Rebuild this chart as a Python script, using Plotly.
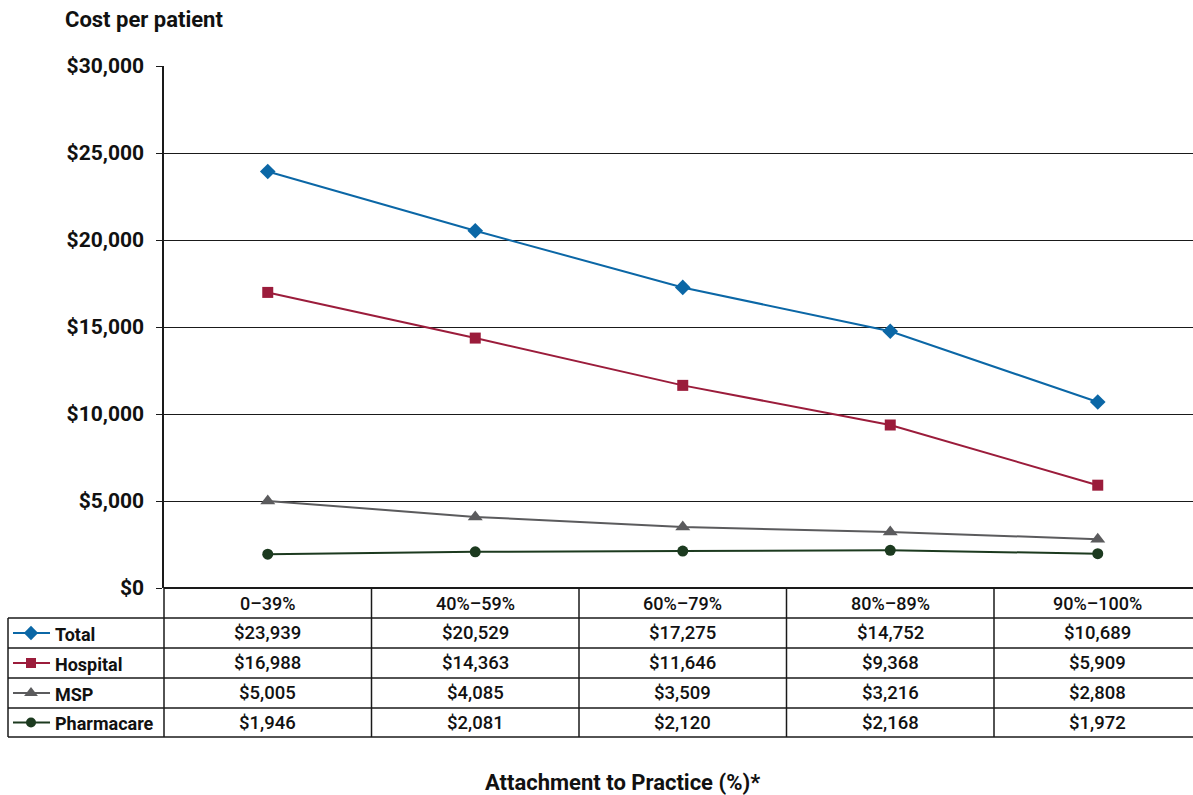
import plotly.graph_objects as go

# ---- data ----
categories = ["0\u201339%", "40%\u201359%", "60%\u201379%", "80%\u201389%", "90%\u2013100%"]
total = [23939, 20529, 17275, 14752, 10689]
hospital = [16988, 14363, 11646, 9368, 5909]
msp = [5005, 4085, 3509, 3216, 2808]
pharmacare = [1946, 2081, 2120, 2168, 1972]

series_names = ["Total", "Hospital", "MSP", "Pharmacare"]
series_values = [total, hospital, msp, pharmacare]
y_ticks = [0, 5000, 10000, 15000, 20000, 25000, 30000]

# ---- styling ----
W, H = 1193, 795
FONT = "Roboto"
colors = ["#0b67a6", "#9b1c3b", "#5b5b5d", "#1c3a1f"]
symbols = ["diamond", "square", "triangle-up", "circle"]
sizes = [12, 11, 13, 11]

# plot area in pixels
PL, PR, PT, PB = 164, W, 66, 588
BAND = 207.5  # pixel width of one category band


def px(x):
    return x / W


def py(y):
    return 1 - y / H


x_idx = list(range(len(categories)))
x_right = -0.5 + (PR - PL) / BAND

fig = go.Figure()

for name, vals, c, s, sz in zip(series_names, series_values, colors, symbols, sizes):
    fig.add_trace(go.Scatter(
        x=x_idx, y=vals, name=name, mode="lines+markers",
        line=dict(color=c, width=2),
        marker=dict(symbol=s, size=sz, color=c),
        cliponaxis=False, showlegend=False,
        xaxis="x", yaxis="y",
    ))

# legend keys inside the data table (pixel-space overlay axis)
row_tops = [618, 648, 678, 708, 737]
row_mid = [(row_tops[i] + row_tops[i + 1]) / 2 for i in range(4)]
for i, (c, s, sz) in enumerate(zip(colors, symbols, sizes)):
    fig.add_trace(go.Scatter(
        x=[13, 50], y=[row_mid[i], row_mid[i]], mode="lines",
        line=dict(color=c, width=2), showlegend=False,
        xaxis="x2", yaxis="y2", hoverinfo="skip",
    ))
    fig.add_trace(go.Scatter(
        x=[31], y=[row_mid[i]], mode="markers",
        marker=dict(symbol=s, size=sz - 1, color=c), showlegend=False,
        xaxis="x2", yaxis="y2", hoverinfo="skip",
    ))

shapes = []
LINE = dict(color="#1a1a1a", width=1.5)
# header row + value rows borders
col_edges = [PL + BAND * k for k in range(len(categories) + 1)]
for k, xe in enumerate(col_edges):
    if xe <= W:
        shapes.append(dict(type="line", xref="paper", yref="paper",
                           x0=px(xe), x1=px(xe), y0=py(PB), y1=py(737), line=LINE))
for yl in row_tops:
    shapes.append(dict(type="line", xref="paper", yref="paper",
                       x0=px(8), x1=1, y0=py(yl), y1=py(yl), line=LINE))
shapes.append(dict(type="line", xref="paper", yref="paper",
                   x0=px(8), x1=px(8), y0=py(618), y1=py(737), line=LINE))

annotations = []
TXT = "#111111"
# category header labels
for i, cat in enumerate(categories):
    annotations.append(dict(x=i, xref="x", y=py(603), yref="paper", text=cat,
                            showarrow=False, xanchor="center", yanchor="middle",
                            font=dict(family=FONT, size=18, color=TXT, weight=500)))
# series labels and values
for r, (name, vals) in enumerate(zip(series_names, series_values)):
    annotations.append(dict(x=px(53), xref="paper", y=py(row_mid[r] + 1), yref="paper",
                            text=name, showarrow=False, xanchor="left", yanchor="middle",
                            font=dict(family=FONT, size=18, color=TXT, weight="bold")))
    for i, v in enumerate(vals):
        annotations.append(dict(x=i, xref="x", y=py(row_mid[r]), yref="paper",
                                text=f"${v:,}", showarrow=False, xanchor="center",
                                yanchor="middle",
                                font=dict(family=FONT, size=18.5, color=TXT, weight=500)))
# titles
annotations.append(dict(x=px(63), xref="paper", y=py(20), yref="paper",
                        text="Cost per patient", showarrow=False, xanchor="left",
                        yanchor="middle",
                        font=dict(family=FONT, size=22, color=TXT, weight="bold")))
annotations.append(dict(x=px(623), xref="paper", y=py(782), yref="paper",
                        text="Attachment to Practice (%)*", showarrow=False,
                        xanchor="center", yanchor="middle",
                        font=dict(family=FONT, size=22, color=TXT, weight="bold")))

fig.update_layout(
    width=W, height=H,
    margin=dict(l=0, r=0, t=0, b=0, autoexpand=False),
    paper_bgcolor="white", plot_bgcolor="rgba(0,0,0,0)",
    xaxis=dict(domain=[px(PL), 1], range=[-0.5, x_right], showticklabels=False,
               showgrid=False, zeroline=False, showline=False, ticks="",
               automargin=False, fixedrange=True),
    yaxis=dict(domain=[py(PB), py(PT)], range=[0, 30000], tickvals=y_ticks,
               ticktext=[f"${v:,}" for v in y_ticks],
               showgrid=True, gridcolor="#1a1a1a",
               gridwidth=1.3, zeroline=True, zerolinecolor="#1a1a1a", zerolinewidth=1.5,
               showline=True, linecolor="#1a1a1a", linewidth=1.5,
               ticks="outside", ticklen=6, tickcolor="#1a1a1a", tickwidth=1.3,
               ticklabelstandoff=8, automargin=False,
               tickfont=dict(family=FONT, size=21, color=TXT, weight="bold"),
               fixedrange=True),
    xaxis2=dict(domain=[0, 1], range=[0, W], visible=False, fixedrange=True),
    yaxis2=dict(domain=[0, 1], range=[H, 0], visible=False, fixedrange=True),
    shapes=shapes,
    annotations=annotations,
)

fig.write_html("out.html")
